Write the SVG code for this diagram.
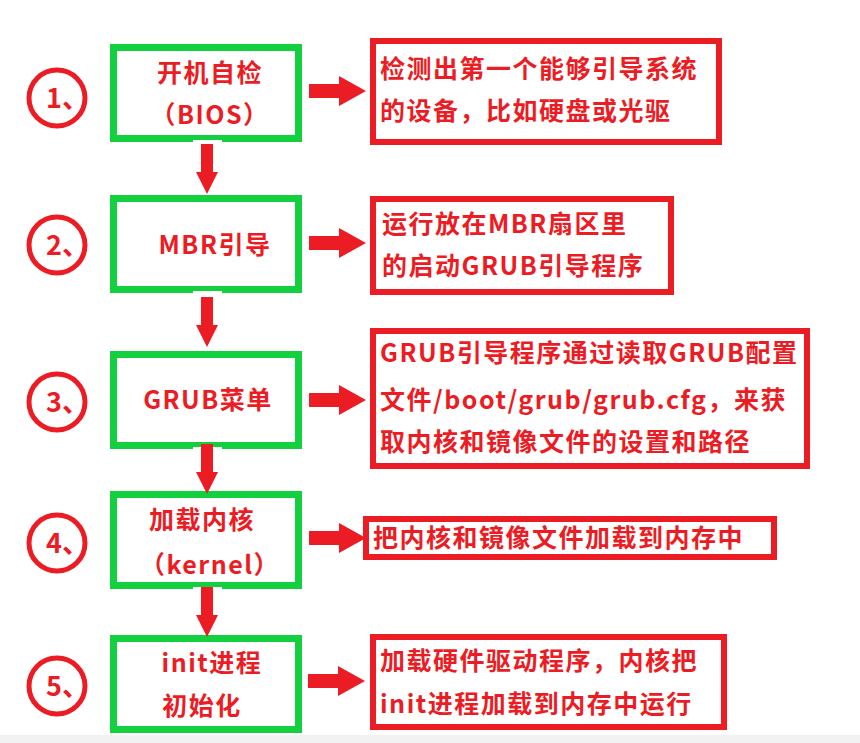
<svg xmlns="http://www.w3.org/2000/svg" width="860" height="743" viewBox="0 0 860 743">
<style>
.g{fill:#fff;stroke:#12d03e;stroke-width:7}
.r{fill:#fff;stroke:#ec1c24;stroke-width:6}
.c{fill:none;stroke:#ec1c24;stroke-width:5}
text{font-family:"Noto Sans CJK SC","Noto Sans",sans-serif;font-weight:bold;fill:#ec1c24;font-size:25px;letter-spacing:1.5px}
.n{font-size:27px;letter-spacing:0}
.a{fill:#ec1c24}
</style>
<defs>
<path id="ra" d="M0,-7 H30 V-15 L57,0 L30,15 V7 H0 Z"/>
<path id="da" d="M-6,0 H6 V28 H11 L0,50 L-11,28 H-6 Z"/>
</defs>
<rect x="0" y="0" width="860" height="743" fill="#fff"/>
<rect x="0" y="735" width="860" height="8" fill="#f2f2f2"/>
<g id="node1"><rect class="g" x="113.5" y="47.5" width="185" height="91"/><text x="210" y="82" text-anchor="middle">开机自检</text><text x="210" y="124" text-anchor="middle">（BIOS）</text></g>
<g id="node2"><rect class="g" x="113.5" y="198.5" width="185" height="91"/><text x="215" y="254" text-anchor="middle">MBR引导</text></g>
<g id="node3"><rect class="g" x="113.5" y="354.5" width="185" height="91"/><text x="208" y="409" text-anchor="middle">GRUB菜单</text></g>
<g id="node4"><rect class="g" x="113.5" y="494.5" width="185" height="91"/><text x="202" y="529" text-anchor="middle">加载内核</text><text x="210" y="574" text-anchor="middle">（kernel）</text></g>
<g id="node5"><rect class="g" x="113.5" y="638.5" width="185" height="91"/><text x="212" y="672" text-anchor="middle">init进程</text><text x="202" y="715" text-anchor="middle">初始化</text></g>
<g id="desc1"><rect class="r" x="373" y="41" width="346" height="101"/><text x="380" y="78">检测出第一个能够引导系统</text><text x="380" y="120">的设备，比如硬盘或光驱</text></g>
<g id="desc2"><rect class="r" x="373" y="199" width="298" height="93"/><text x="382" y="233">运行放在MBR扇区里</text><text x="382" y="275">的启动GRUB引导程序</text></g>
<g id="desc3"><rect class="r" x="373" y="331" width="434" height="135"/><text x="380" y="362">GRUB引导程序通过读取GRUB配置</text><text x="380" y="409">文件/boot/grub/grub.cfg，来获</text><text x="380" y="451">取内核和镜像文件的设置和路径</text></g>
<g id="desc4"><rect class="r" x="366" y="519" width="408" height="38"/><text x="373" y="547">把内核和镜像文件加载到内存中</text></g>
<g id="desc5"><rect class="r" x="373" y="637" width="351" height="90"/><text x="380" y="670">加载硬件驱动程序，内核把</text><text x="380" y="713">init进程加载到内存中运行</text></g>
<g id="labels">
<circle class="c" cx="57" cy="98" r="28"/><text class="n" x="46" y="108">1、</text>
<circle class="c" cx="57" cy="245" r="28"/><text class="n" x="46" y="255">2、</text>
<circle class="c" cx="57" cy="402" r="28"/><text class="n" x="46" y="412">3、</text>
<circle class="c" cx="57" cy="543" r="28"/><text class="n" x="46" y="553">4、</text>
<circle class="c" cx="57" cy="686" r="28"/><text class="n" x="46" y="696">5、</text>
</g>
<g id="connectors">
<rect x="193" y="140" width="29" height="4" fill="#fff"/><use href="#da" class="a" x="207" y="144"/>
<rect x="193" y="291" width="29" height="4" fill="#fff"/><use href="#da" class="a" x="207" y="297"/>
<rect x="193" y="447" width="29" height="4" fill="#fff"/><use href="#da" class="a" x="207" y="444"/>
<rect x="193" y="587" width="29" height="4" fill="#fff"/><use href="#da" class="a" x="207" y="587"/>
<use href="#ra" class="a" x="309" y="91"/>
<use href="#ra" class="a" x="309" y="243"/>
<use href="#ra" class="a" x="309" y="400"/>
<use href="#ra" class="a" x="309" y="538"/>
<use href="#ra" class="a" x="308" y="681"/>
</g>
</svg>
